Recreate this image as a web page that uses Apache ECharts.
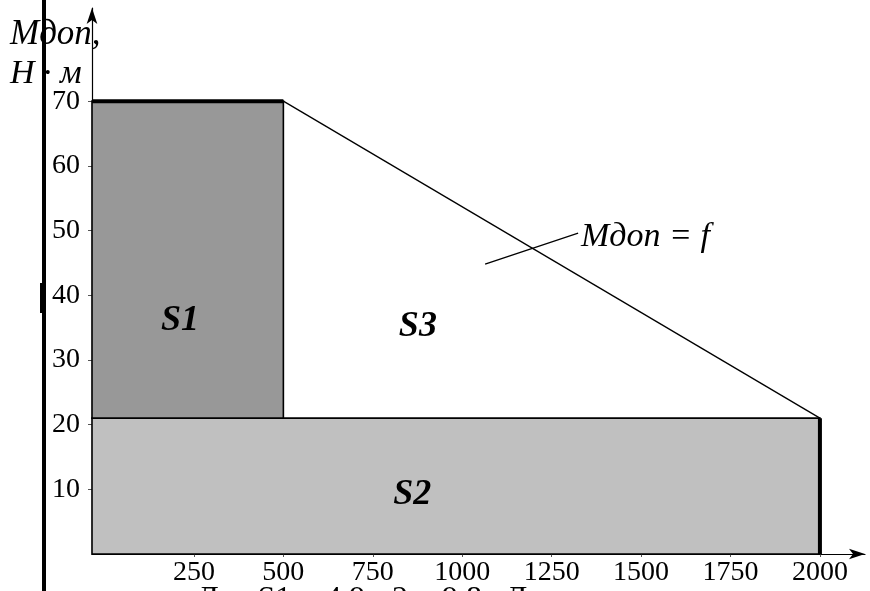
<!DOCTYPE html>
<html><head><meta charset="utf-8">
<script src="https://cdn.jsdelivr.net/npm/echarts@6/dist/echarts.min.js"></script>
<style>html,body{margin:0;padding:0;background:#fff}#c{width:870px;height:591px}</style>
</head><body><div id="c"></div>
<script>
// ---- data ----
const xTicks = [250, 500, 750, 1000, 1250, 1500, 1750, 2000];
const yTicks = [10, 20, 30, 40, 50, 60, 70];
const axisStartX = -35;
const xMax = 2126;
const yMax = 84.4;
const rectNames = ['S2', 'S1'];
const rectX0 = [axisStartX, axisStartX];
const rectX1 = [2000, 500];
const rectY0 = [0, 21];
const rectY1 = [21, 70];
const mdopX = [500, 2000];
const mdopY = [70, 21];
const topEdgeX = [axisStartX, 500];
const topEdgeY = [70, 70];
const rightEdgeX = [2000, 2000];
const rightEdgeY = [0, 21];
const calloutX = [1064, 1324];
const calloutY = [44.8, 49.6];
const regionNames = ['S1', 'S2', 'S3'];
const regionX = [211, 860, 876];
const regionY = [36.0, 9.1, 35.2];

const rectFill = ['#c0c0c0', '#989898'];
const serif = 'Liberation Serif';

const chart = echarts.init(document.getElementById('c'), null, {renderer: 'canvas'});
const zip = (a, b) => a.map((v, i) => [v, b[i]]);

const option = {
  animation: false,
  backgroundColor: '#fff',
  grid: {left: 92, right: 5, top: 8, bottom: 37},
  xAxis: {
    type: 'value', min: axisStartX, max: xMax,
    splitLine: {show: false},
    axisLine: {show: true, onZero: false, lineStyle: {color: '#000', width: 1.2},
      symbol: ['none', 'arrow'], symbolSize: [8, 16]},
    axisTick: {show: true, customValues: xTicks, length: 3, lineStyle: {color: '#555'}},
    axisLabel: {customValues: xTicks, color: '#000', fontFamily: serif, fontSize: 28, margin: 5,
      formatter: v => String(v)}
  },
  yAxis: {
    type: 'value', min: 0, max: yMax,
    splitLine: {show: false},
    axisLine: {show: true, onZero: false, lineStyle: {color: '#000', width: 1.2},
      symbol: ['none', 'arrow'], symbolSize: [8, 16]},
    axisTick: {show: true, customValues: yTicks, length: 4, lineStyle: {color: '#555'}},
    axisLabel: {customValues: yTicks, color: '#000', fontFamily: serif, fontSize: 28, margin: 12,
      formatter: v => String(v)}
  },
  series: [
    {
      type: 'custom', z: 2,
      data: rectNames.map((n, i) => [rectX0[i], rectX1[i], rectY0[i], rectY1[i]]),
      renderItem: function (params, api) {
        const p0 = api.coord([api.value(0), api.value(3)]);
        const p1 = api.coord([api.value(1), api.value(2)]);
        return {
          type: 'rect',
          shape: {x: p0[0], y: p0[1], width: p1[0] - p0[0], height: p1[1] - p0[1]},
          style: {fill: rectFill[params.dataIndex], stroke: '#000', lineWidth: 1.6}
        };
      }
    },
    {type: 'line', z: 5, data: zip(mdopX, mdopY), symbol: 'none',
      lineStyle: {color: '#000', width: 1.3}},
    {type: 'line', z: 6, data: zip(topEdgeX, topEdgeY), symbol: 'none',
      lineStyle: {color: '#000', width: 4}},
    {type: 'line', z: 6, data: zip(rightEdgeX, rightEdgeY), symbol: 'none',
      lineStyle: {color: '#000', width: 4}},
    {type: 'line', z: 6, data: zip(calloutX, calloutY), symbol: 'none',
      lineStyle: {color: '#000', width: 1.3}},
    {type: 'custom', z: 7, silent: true,
      data: regionNames.map((n, i) => [regionX[i], regionY[i]]),
      renderItem: function (params, api) {
        const p = api.coord([api.value(0), api.value(1)]);
        return {
          type: 'text', x: p[0], y: p[1],
          style: {text: regionNames[params.dataIndex], fill: '#000', align: 'center', verticalAlign: 'middle',
            font: 'italic bold 36px "Liberation Serif"'}
        };
      }}
  ],
  graphic: [
    {type: 'rect', left: 42, top: 0, z: 0, shape: {width: 4, height: 591}, style: {fill: '#000'}},
    {type: 'rect', left: 40, top: 283, z: 0, shape: {width: 2, height: 30}, style: {fill: '#000'}},
    {type: 'text', left: 10, top: 17, z: 10, style: {text: 'Mдоп,', font: 'italic 35px "Liberation Serif"', fill: '#000'}},
    {type: 'text', left: 10, top: 57, z: 10, style: {text: 'H · м', font: 'italic 34px "Liberation Serif"', fill: '#000'}},
    {type: 'text', left: 581, top: 220, z: 10, style: {text: 'Mдоп = f', font: 'italic 34px "Liberation Serif"', fill: '#000'}},
    {type: 'text', left: 197, top: 584, z: 10, style: {text: 'Для S1 = 4,9 · 2 = 9,8 кДж', font: '32px "Liberation Serif"', fill: '#000'}}
  ]
};
chart.setOption(option);
</script>
</body></html>
